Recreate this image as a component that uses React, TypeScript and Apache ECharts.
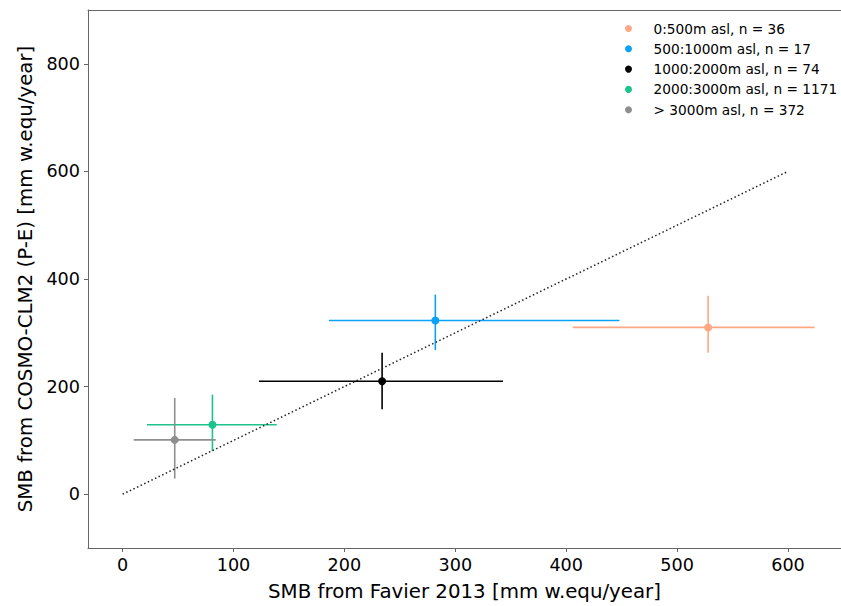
import React, { useEffect, useRef } from "react";
import * as echarts from "echarts";

const groups = [
  "0:500m asl, n = 36",
  "500:1000m asl, n = 17",
  "1000:2000m asl, n = 74",
  "2000:3000m asl, n = 1171",
  "> 3000m asl, n = 372",
];
const xMean = [528, 282, 234, 81, 47];
const yMean = [310, 323, 210, 129, 101];
const xLow = [406, 186, 123, 22, 10];
const xHigh = [624, 448, 343, 139, 84];
const yLow = [263, 268, 158, 80, 29];
const yHigh = [369, 371, 263, 185, 179];
const oneToOneX = [0, 600];
const oneToOneY = [0, 600];
const xTicks = [0, 100, 200, 300, 400, 500, 600];
const yTicks = [0, 200, 400, 600, 800];

const colors = ["#FFA883", "#0AA2F6", "#000000", "#1CC38A", "#8E8E8E"];
const FONT = "DejaVu Sans";

export default function App() {
  const ref = useRef<HTMLDivElement>(null);
  useEffect(() => {
    if (!ref.current) return;
    const chart = echarts.init(ref.current, undefined, { renderer: "svg" });
    const errSeries = groups.map((g, i) => ({
      type: "custom",
      name: g + " err",
      data: [[xMean[i], yMean[i], xLow[i], xHigh[i], yLow[i], yHigh[i]]],
      z: 2,
      renderItem: (params: any, api: any) => {
        const c = api.coord([api.value(0), api.value(1)]);
        const l = api.coord([api.value(2), api.value(1)]);
        const r = api.coord([api.value(3), api.value(1)]);
        const t = api.coord([api.value(0), api.value(5)]);
        const b = api.coord([api.value(0), api.value(4)]);
        const style = { stroke: colors[i], lineWidth: 1.6 };
        return {
          type: "group",
          children: [
            { type: "line", shape: { x1: l[0], y1: c[1], x2: r[0], y2: c[1] }, style },
            { type: "line", shape: { x1: c[0], y1: t[1], x2: c[0], y2: b[1] }, style },
          ],
        };
      },
    }));
    const pointSeries = groups.map((g, i) => ({
      type: "scatter",
      name: g,
      data: [[xMean[i], yMean[i]]],
      symbol: "circle",
      symbolSize: 8,
      itemStyle: { color: colors[i], opacity: 1 },
      z: 4,
    }));
    const axisCommon = {
      axisLine: { show: true, onZero: false, lineStyle: { color: "#666", width: 1 } },
      axisTick: { show: true, inside: false, length: 4, lineStyle: { color: "#666", width: 1 } },
      splitLine: { show: false },
    };
    chart.setOption({
      animation: false,
      textStyle: { fontFamily: FONT },
      grid: {
        left: 88,
        top: 10,
        right: 0,
        height: 540,
        show: false,
      },
      xAxis: [
        {
          type: "value",
          min: -31.2,
          max: 647.8,
          ...axisCommon,
          axisTick: { ...axisCommon.axisTick, customValues: xTicks },
          axisLabel: {
            customValues: xTicks,
            fontSize: 17.6,
            color: "#000",
            fontFamily: FONT,
            margin: 8,
          },
          name: "SMB from Favier 2013 [mm w.equ/year]",
          nameLocation: "middle",
          nameGap: 33,
          nameTextStyle: { fontSize: 19.8, color: "#000", fontFamily: FONT },
        },
        {
          type: "value",
          position: "top",
          min: -31.2,
          max: 647.8,
          axisLine: { show: true, onZero: false, lineStyle: { color: "#666", width: 1 } },
          axisTick: { show: false },
          axisLabel: { show: false },
          splitLine: { show: false },
        },
      ],
      yAxis: {
        type: "value",
        min: -100,
        max: 900,
        ...axisCommon,
        axisTick: { ...axisCommon.axisTick, customValues: yTicks },
        axisLabel: {
          customValues: yTicks,
          fontSize: 17.6,
          color: "#000",
          fontFamily: FONT,
          margin: 8,
        },
        name: "SMB from COSMO-CLM2 (P-E) [mm w.equ/year]",
        nameLocation: "middle",
        nameGap: 46,
        nameTextStyle: { fontSize: 19.8, color: "#000", fontFamily: FONT },
      },
      legend: {
        data: groups,
        orient: "vertical",
        left: 620,
        top: 16,
        icon: "circle",
        itemWidth: 40,
        itemHeight: 7,
        itemGap: 5.3,
        textStyle: { fontSize: 13.7, lineHeight: 15, color: "#000", fontFamily: FONT },
      },
      series: [
        {
          type: "line",
          name: "1:1",
          data: oneToOneX.map((x, i) => [x, oneToOneY[i]]),
          symbol: "none",
          lineStyle: { color: "#222", width: 1.5, type: [1.5, 2.5] },
          z: 3,
        },
        ...errSeries,
        ...pointSeries,
      ],
    });
    return () => chart.dispose();
  }, []);
  return (
    <div
      ref={ref}
      style={{ position: "fixed", left: 0, top: 0, width: 841, height: 606, background: "#fff" }}
    />
  );
}
